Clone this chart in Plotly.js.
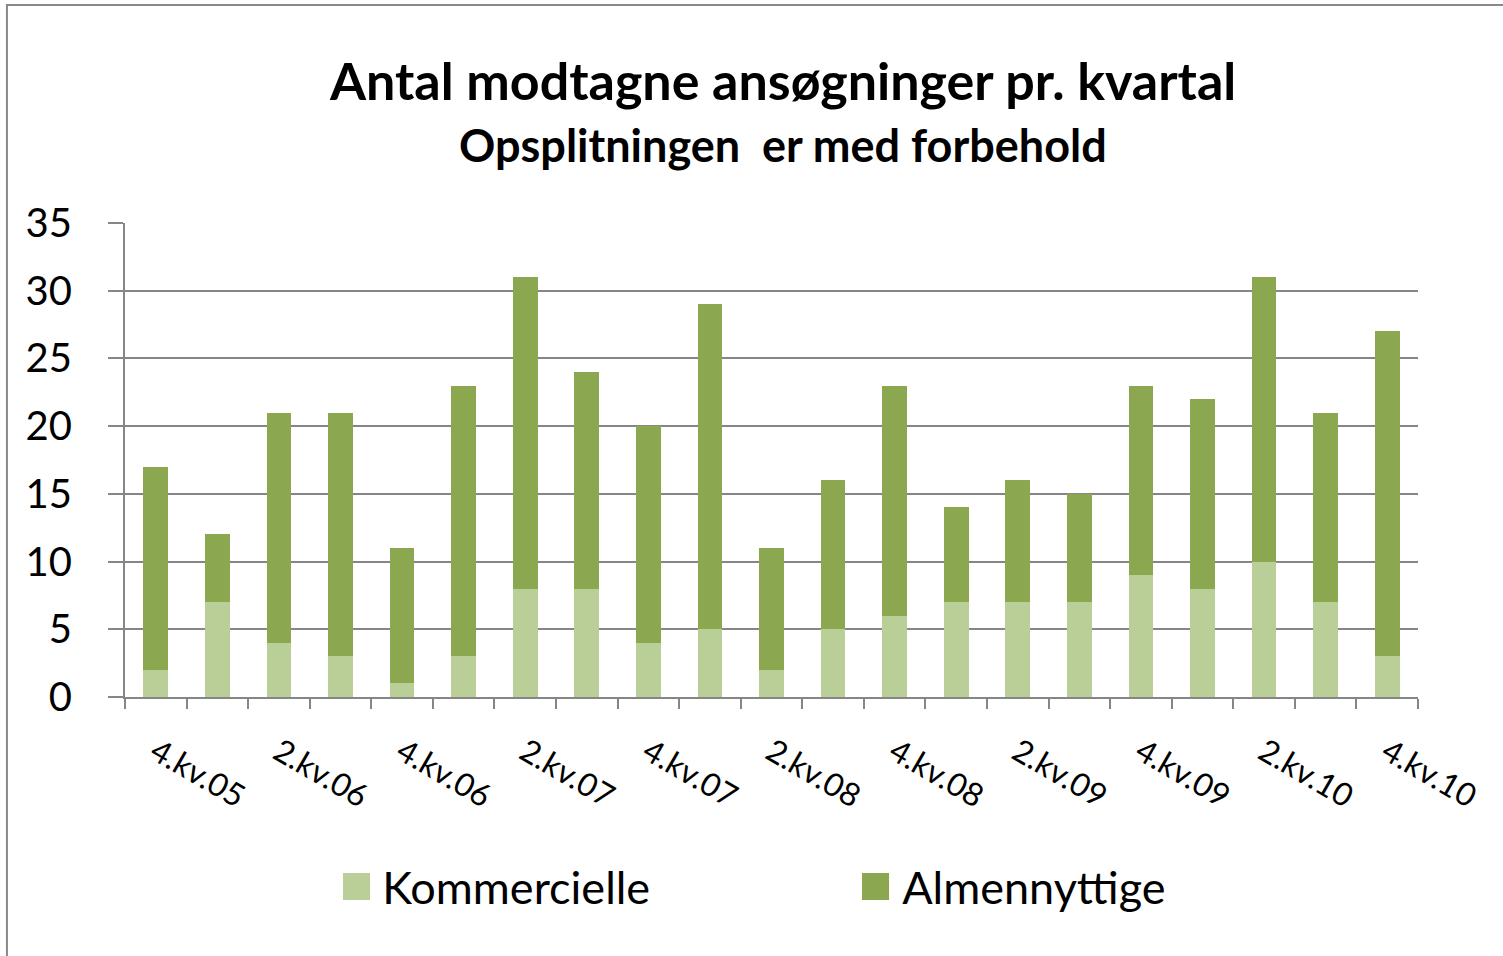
<!DOCTYPE html>
<html><head><meta charset="utf-8">
<script src="https://cdn.plot.ly/plotly-3.0.1.min.js"></script>
<style>html,body{margin:0;padding:0;background:#fff}#chart{width:1503px;height:956px}</style>
</head><body><div id="chart"></div>
<script>
const categories = ["4.kv.05","1.kv.06","2.kv.06","3.kv.06","4.kv.06","1.kv.07","2.kv.07","3.kv.07","4.kv.07","1.kv.08","2.kv.08","3.kv.08","4.kv.08","1.kv.09","2.kv.09","3.kv.09","4.kv.09","1.kv.10","2.kv.10","3.kv.10","4.kv.10"];
const tickLabels = ["4.kv.05","","2.kv.06","","4.kv.06","","2.kv.07","","4.kv.07","","2.kv.08","","4.kv.08","","2.kv.09","","4.kv.09","","2.kv.10","","4.kv.10"];
const kommercielle = [2,7,4,3,1,3,8,8,4,5,2,5,6,7,7,7,9,8,10,7,3];
const almennyttige = [15,5,17,18,10,20,23,16,16,24,9,11,17,7,9,8,14,14,21,14,24];
const yTicks = [0,5,10,15,20,25,30,35];
const seriesNames = ['Kommercielle','Almennyttige'];
const seriesColors = ['#BACF97','#8BA74F'];

const font = "Lato, 'Open Sans', sans-serif";
const traces = [
  {type:'bar', name:seriesNames[0], x:categories, y:kommercielle, marker:{color:seriesColors[0]}},
  {type:'bar', name:seriesNames[1], x:categories, y:almennyttige, marker:{color:seriesColors[1]}}
];
// large legend swatches (decoration behind the native legend symbols)
const swatchX = [[0.1686,0.1895],[0.5700,0.5909]];
const layout = {
  width:1503, height:956,
  margin:{l:125, r:85, t:223, b:259},
  paper_bgcolor:'#fff', plot_bgcolor:'#fff',
  barmode:'stack', bargap:0.6,
  font:{family:font, color:'#000'},
  title:{text:"<b>Antal modtagne ansøgninger pr. kvartal</b>",
    x:0.521, xanchor:'center', yref:'container', y:1-82/956, yanchor:'middle', font:{size:52, family:font}},
  annotations:[{text:"<b>Opsplitningen  er med forbehold</b>", xref:'paper', yref:'paper',
    x:(783-125)/1293, y:(697-145)/474, xanchor:'center', yanchor:'middle', showarrow:false,
    font:{size:45, family:font, color:'#000'}}],
  xaxis:{type:'category', tickmode:'array', tickvals:categories, ticktext:tickLabels,
    tickangle:30, tickson:'boundaries', ticks:'outside', ticklen:10, tickwidth:2, tickcolor:'#868686',
    showline:true, linecolor:'#868686', linewidth:2, showgrid:false, zeroline:false,
    tickfont:{size:32, family:font}, ticklabelstandoff:22, automargin:false},
  yaxis:{range:[0,35], tickvals:yTicks, ticks:'outside', ticklen:15, tickwidth:2, tickcolor:'#868686',
    showline:true, linecolor:'#868686', linewidth:2, showgrid:true, gridcolor:'#868686', gridwidth:2,
    zeroline:false, tickfont:{size:40, family:font}, ticklabelstandoff:28, automargin:false},
  legend:{orientation:'h', x:0.168, xanchor:'left', y:-0.40, yanchor:'middle', bgcolor:'rgba(0,0,0,0)',
    font:{size:45, family:font}, entrywidth:475, entrywidthmode:'pixels', itemwidth:30, traceorder:'normal'},
  shapes:[{type:'rect', xref:'paper', yref:'paper', x0:-0.0913, x1:1.2, y0:-0.8, y1:1.46,
    line:{color:'#888', width:2}, fillcolor:'rgba(0,0,0,0)', layer:'below'}]
    .concat(swatchX.map((sx,i)=>({type:'rect', xref:'paper', yref:'paper', x0:sx[0], x1:sx[1],
      y0:-0.4283, y1:-0.3713, line:{width:0}, fillcolor:seriesColors[i], layer:'above'}))),
  showlegend:true
};
Plotly.newPlot('chart', traces, layout, {displayModeBar:false, staticPlot:true});
</script></body></html>
